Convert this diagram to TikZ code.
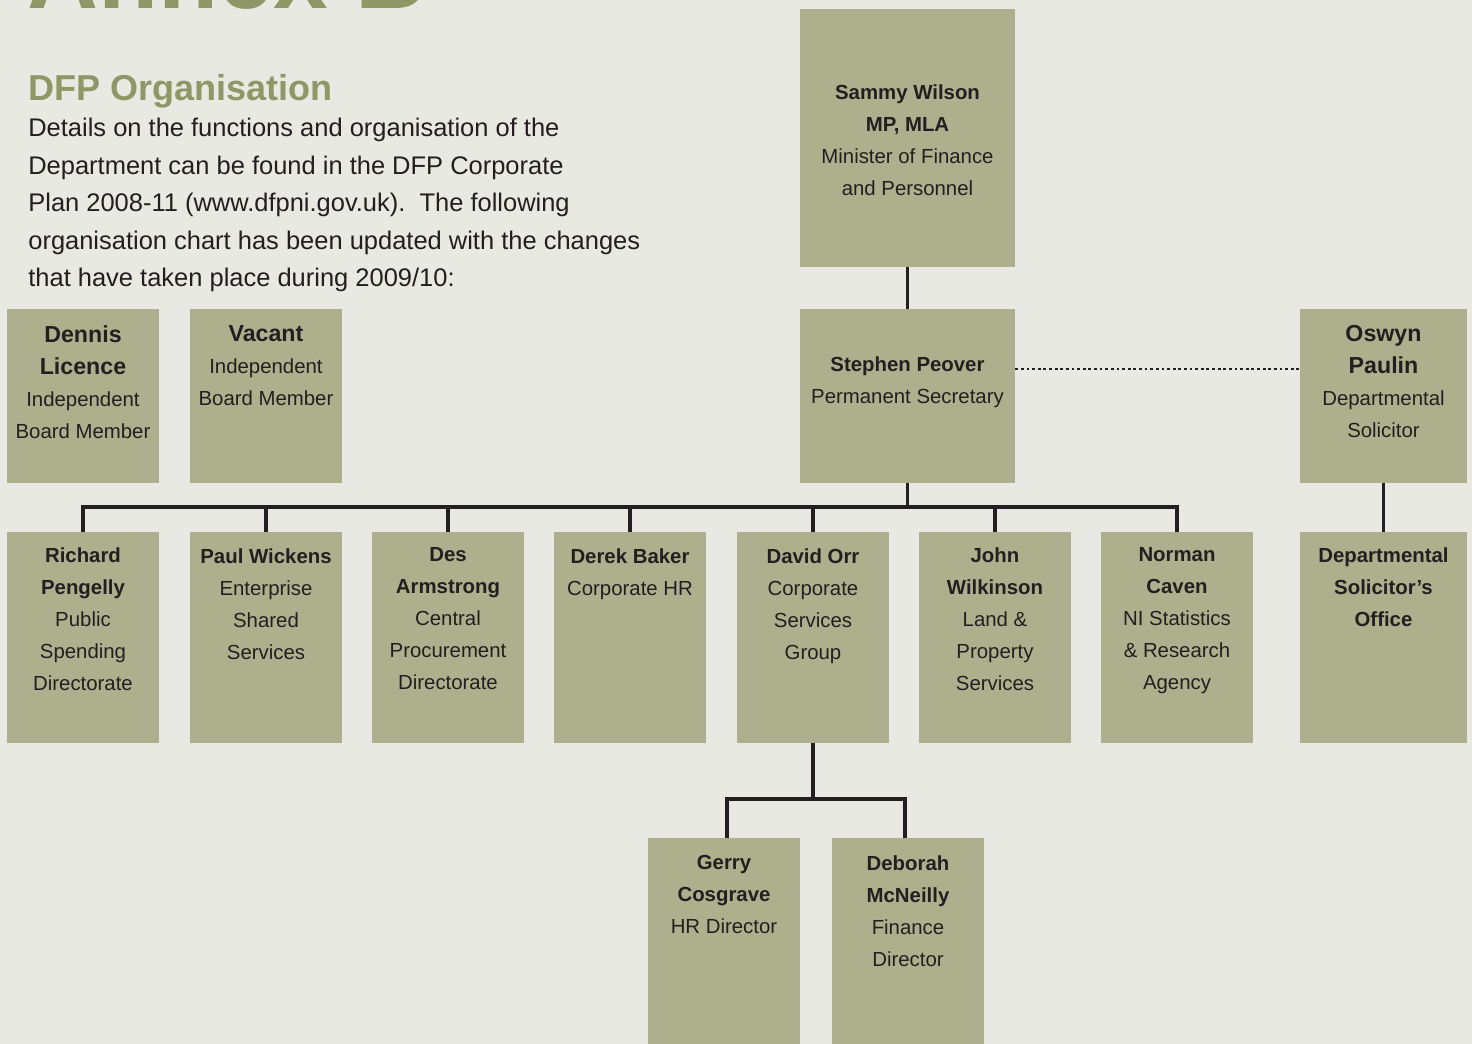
\documentclass[tikz,border=0pt]{standalone}
\usepackage{fontspec}
\setmainfont{Liberation Sans}
\usepackage{tikz}
\definecolor{bg}{HTML}{E8E9E2}
\definecolor{olive}{HTML}{AEAF8C}
\definecolor{sage}{HTML}{8F9766}
\definecolor{ink}{HTML}{231F20}
\newcommand{\who}[1]{\textbf{#1}}
\newcommand{\whobig}[1]{{\fontsize{13.2}{18.2}\selectfont\textbf{#1}}}
\begin{document}
\begin{tikzpicture}[x=0.02cm,y=-0.02cm]
	\tikzstyle{every node}+=[inner sep=0pt]
	\tikzstyle{box}=[fill=olive, minimum width=3.04cm, minimum height=4.22cm]
	\tikzstyle{wide}=[minimum width=3.34cm]
	\tikzstyle{txt}=[anchor=north, align=center, text=ink, font=\fontsize{11.6}{18.2}\selectfont]
	\tikzstyle{heading}=[anchor=base west, text=sage]
	\tikzstyle{link}=[draw=ink, line width=1.8pt]
	\tikzstyle{dots}=[draw=ink, line width=1.6pt, dash pattern=on 1.6pt off 1.6pt]
	\useasboundingbox (0,0) rectangle (1472,1044);
	\clip (0,0) rectangle (1472,1044);
	\fill [bg] (0,0) rectangle (1472,1044);
	\node [heading, font=\fontsize{56}{60}\selectfont\bfseries] (annex) at (27,9) {Annex B};
	\node [heading, font=\fontsize{20.5}{24}\selectfont\bfseries] (title) at (28,101) {DFP Organisation};
	\node [anchor=north west, align=left, text=ink, font=\fontsize{14.5}{21.3}\selectfont] (intro) at (28,118) {Details on the functions and organisation of the\\Department can be found in the DFP Corporate\\Plan 2008-11 (www.dfpni.gov.uk).~~The following\\organisation chart has been updated with the changes\\that have taken place during 2009/10:};
	\node [box, minimum width=4.3cm, minimum height=5.16cm] (min) at (907.5,138) {};
	\node [box, minimum width=4.3cm, minimum height=3.48cm] (sec) at (907.5,396) {};
	\node [box, minimum height=3.48cm] (den) at (83,396) {};
	\node [box, minimum height=3.48cm] (vac) at (266,396) {};
	\node [box, wide, minimum height=3.48cm] (osw) at (1383.5,396) {};
	\foreach \n/\x in {ric/83, pau/266, des/448, der/630, dav/813, joh/995, nor/1177}
		\node [box] (\n) at (\x,637.5) {};
	\node [box, wide] (dso) at (1383.5,637.5) {};
	\node [box, minimum height=4.44cm] (ger) at (724,949) {};
	\node [box, minimum height=4.44cm] (deb) at (908,949) {};
	\node [txt] (min-t) at (907.5,84) {\who{Sammy Wilson}\\\who{MP, MLA}\\Minister of Finance\\and Personnel};
	\node [txt] (sec-t) at (907.5,356) {\who{Stephen Peover}\\Permanent Secretary};
	\node [txt] (den-t) at (83,325) {\whobig{Dennis}\\\whobig{Licence}\\Independent\\Board Member};
	\node [txt] (vac-t) at (266,325) {\whobig{Vacant}\\Independent\\Board Member};
	\node [txt] (osw-t) at (1383.5,325) {\whobig{Oswyn}\\\whobig{Paulin}\\Departmental\\Solicitor};
	\node [txt] (ric-t) at (83,547) {\who{Richard}\\\who{Pengelly}\\Public\\Spending\\Directorate};
	\node [txt] (pau-t) at (266,548) {\who{Paul Wickens}\\Enterprise\\Shared\\Services};
	\node [txt] (des-t) at (448,547) {\who{Des}\\\who{Armstrong}\\Central\\Procurement\\Directorate};
	\node [txt] (der-t) at (630,548) {\who{Derek Baker}\\Corporate HR};
	\node [txt] (dav-t) at (813,548) {\who{David Orr}\\Corporate\\Services\\Group};
	\node [txt] (joh-t) at (995,547) {\who{John}\\\who{Wilkinson}\\Land \&\\Property\\Services};
	\node [txt] (nor-t) at (1177,547) {\who{Norman}\\\who{Caven}\\NI Statistics\\\& Research\\Agency};
	\node [txt] (dso-t) at (1383.5,547) {\who{Departmental}\\\who{Solicitor's}\\\who{Office}};
	\node [txt] (ger-t) at (724,855) {\who{Gerry}\\\who{Cosgrave}\\HR Director};
	\node [txt] (deb-t) at (908,855) {\who{Deborah}\\\who{McNeilly}\\Finance\\Director};
	\draw [link] (min) -- (sec);
	\coordinate (bus) at (907.5,507);
	\draw [link] (sec) -- (bus);
	\draw [link] (ric.north) |- (bus) -| (nor.north);
	\foreach \n in {pau,des,der,dav,joh}
		\draw [link] (\n.north) -- (\n.north |- bus);
	\draw [dots] ([yshift=0.54cm]sec.east) -- ([yshift=0.54cm]osw.west);
	\draw [link] (osw) -- (dso);
	\coordinate (sub) at (813,799);
	\draw [link] (dav) -- (sub);
	\draw [link] ([xshift=0.06cm]ger.north) |- (sub) -| ([xshift=-0.06cm]deb.north);
\end{tikzpicture}
\end{document}
